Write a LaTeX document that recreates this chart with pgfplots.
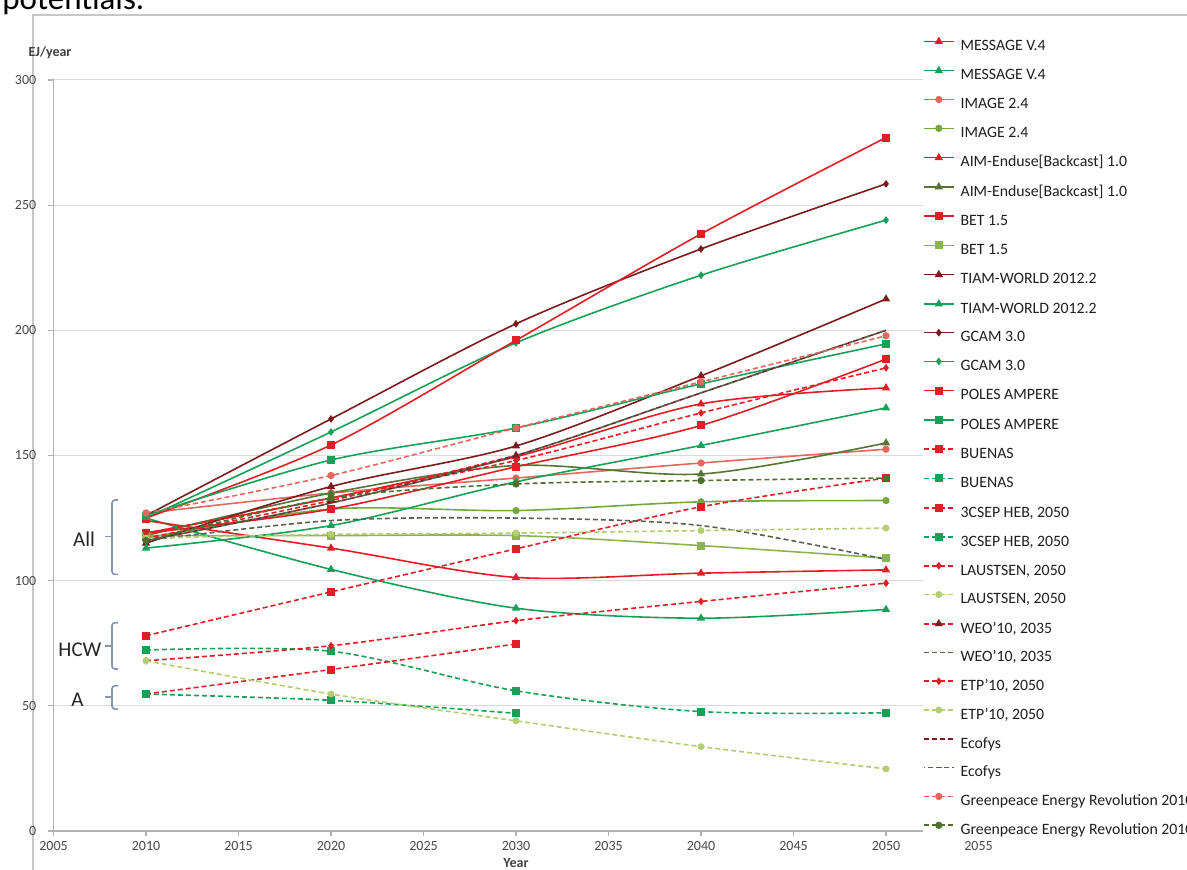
\documentclass[border=0pt]{standalone}
\usepackage{pgfplots}
\pgfplotsset{compat=1.18}
\usepackage{fontspec}
\setmainfont{Carlito}

\definecolor{cRed}{RGB}{225,30,38}
\definecolor{cGreen}{RGB}{22,160,88}
\definecolor{cMaroon}{RGB}{122,28,30}
\definecolor{cSalmon}{RGB}{226,104,94}
\definecolor{cImgGreen}{RGB}{118,166,62}
\definecolor{cAimGreen}{RGB}{88,116,52}
\definecolor{cBetGreen}{RGB}{140,180,78}
\definecolor{cLightGreen}{RGB}{178,206,112}
\definecolor{cWeoGray}{RGB}{88,96,78}
\definecolor{cGpGreen}{RGB}{78,112,42}
\definecolor{cBrace}{RGB}{132,150,176}

\begin{document}
\begin{tikzpicture}[x=1pt,y=1pt]
\path[use as bounding box] (0,0) rectangle (593.5,435);
\clip (0,0) rectangle (593.5,435);
% caption line running above the chart frame
\node[anchor=base west, inner sep=0pt, font=\fontsize{16.5}{18}\selectfont] at (1,430) {potentials.};
% chart frame
\draw[black!22, line width=0.6pt] (16.5,-5) -- (16.5,427.5) -- (600,427.5);

\begin{axis}[
  at={(26.75pt,19.5pt)}, anchor=south west,
  scale only axis, width=462.5pt, height=375.5pt,
  xmin=2005, xmax=2055, ymin=0, ymax=300,
  xtick={2005,2010,...,2055}, ytick={0,50,...,300},
  axis lines=left, axis line style={-, black!30, line width=0.6pt},
  tick style={black!30, line width=0.6pt}, tick align=outside, major tick length=2.6pt,
  ymajorgrids, grid style={black!14, line width=0.5pt},
  ticklabel style={font=\fontsize{7}{8}\selectfont, text=black!72},
  /pgf/number format/assume math mode=true,
  /pgf/number format/1000 sep={},
  xticklabel style={yshift=1pt},
  yticklabel style={xshift=-2.5pt},
  clip=false,
  every axis plot/.append style={line width=0.8pt, smooth},
  legend image code/.code={\draw[mark repeat=2,mark phase=2,#1] plot coordinates {(0pt,2.4pt)(7.5pt,2.4pt)(15pt,2.4pt)};},
  legend style={at={(0.940,1.0557)}, anchor=north west, draw=none, fill=white,
    inner sep=0pt, outer sep=0pt, row sep=6.88pt, column sep=3pt,
    font=\fontsize{7.9}{9}\selectfont, text=black!88,
    cells={anchor=base west},
    nodes={inner sep=0pt, text height=6pt, text depth=1.5pt}},
  legend cell align=left,
]
% model scenarios
\addplot[cRed, mark=triangle*, mark size=1.6pt] coordinates {(2010,119) (2020,133) (2030,149.5) (2040,170.6) (2050,177)};
\addlegendentry{MESSAGE V.4}
\addplot[cGreen, mark=triangle*, mark size=1.6pt] coordinates {(2010,125) (2020,104.5) (2030,89) (2040,85) (2050,88.5)};
\addlegendentry{MESSAGE V.4}
\addplot[cSalmon, mark=*, mark size=1.4pt] coordinates {(2010,127) (2020,135) (2030,141) (2040,147) (2050,152.5)};
\addlegendentry{IMAGE 2.4}
\addplot[cImgGreen, mark=*, mark size=1.4pt] coordinates {(2010,117) (2020,128.6) (2030,128) (2040,131.5) (2050,132)};
\addlegendentry{IMAGE 2.4}
\addplot[cRed, mark=triangle*, mark size=1.6pt] coordinates {(2010,124) (2020,113) (2030,101.3) (2040,103) (2050,104.3)};
\addlegendentry{AIM-Enduse[Backcast] 1.0}
\addplot[cAimGreen, mark=triangle*, mark size=1.6pt] coordinates {(2010,118) (2020,135) (2030,146) (2040,142.6) (2050,155)};
\addlegendentry{AIM-Enduse[Backcast] 1.0}
\addplot[cRed, mark=square*, mark size=1.6pt] coordinates {(2010,119) (2020,128.6) (2030,145.5) (2040,162) (2050,188.5)};
\addlegendentry{BET 1.5}
\addplot[cBetGreen, mark=square*, mark size=1.6pt] coordinates {(2010,118) (2020,118) (2030,118) (2040,114) (2050,109)};
\addlegendentry{BET 1.5}
\addplot[cMaroon, mark=triangle*, mark size=1.6pt] coordinates {(2010,115) (2020,137.6) (2030,153.8) (2040,181.8) (2050,212.5)};
\addlegendentry{TIAM-WORLD 2012.2}
\addplot[cGreen, mark=triangle*, mark size=1.6pt] coordinates {(2010,113) (2020,122) (2030,139.5) (2040,154) (2050,169)};
\addlegendentry{TIAM-WORLD 2012.2}
\addplot[cMaroon, mark=diamond*, mark size=1.3pt] coordinates {(2010,126) (2020,164.6) (2030,202.6) (2040,232.5) (2050,258.5)};
\addlegendentry{GCAM 3.0}
\addplot[cGreen, mark=diamond*, mark size=1.3pt] coordinates {(2010,125) (2020,159.4) (2030,195) (2040,222) (2050,244)};
\addlegendentry{GCAM 3.0}
\addplot[cRed, mark=square*, mark size=1.6pt] coordinates {(2010,125) (2020,154.2) (2030,196) (2040,238.5) (2050,277)};
\addlegendentry{POLES AMPERE}
\addplot[cGreen, mark=square*, mark size=1.6pt] coordinates {(2010,126) (2020,148.2) (2030,161) (2040,178.6) (2050,194.6)};
\addlegendentry{POLES AMPERE}
% sectoral studies
\addplot[cRed, dash pattern=on 2.5pt off 1.5pt, mark=square*, mark size=1.6pt, mark options={solid}] coordinates {(2010,78) (2020,95.5) (2030,112.7) (2040,129.5) (2050,141)};
\addlegendentry{BUENAS}
\addplot[cGreen, dash pattern=on 2.5pt off 1.5pt, mark=square*, mark size=1.6pt, mark options={solid}] coordinates {(2010,72.3) (2020,71.8) (2030,56) (2040,47.7) (2050,47.2)};
\addlegendentry{BUENAS}
\addplot[cRed, dash pattern=on 2.5pt off 1.5pt, mark=square*, mark size=1.6pt, mark options={solid}] coordinates {(2010,54.7) (2020,64.5) (2030,74.7)};
\addlegendentry{3CSEP HEB, 2050}
\addplot[cGreen, dash pattern=on 2.5pt off 1.5pt, mark=square*, mark size=1.6pt, mark options={solid}] coordinates {(2010,54.7) (2020,52.2) (2030,47)};
\addlegendentry{3CSEP HEB, 2050}
\addplot[cRed, dash pattern=on 2.5pt off 1.5pt, mark=diamond*, mark size=1.3pt, mark options={solid}] coordinates {(2010,68) (2020,74) (2030,84) (2040,91.7) (2050,99)};
\addlegendentry{LAUSTSEN, 2050}
\addplot[cLightGreen, dash pattern=on 2.5pt off 1.5pt, mark=*, mark size=1.3pt, mark options={solid}] coordinates {(2010,68) (2020,54.7) (2030,44) (2040,33.7) (2050,24.8)};
\addlegendentry{LAUSTSEN, 2050}
\addplot[cRed, dash pattern=on 2.5pt off 1.5pt, mark=triangle*, mark size=1.6pt, mark options={solid, fill=cMaroon, draw=cMaroon}] coordinates {(2010,117) (2020,132) (2030,150)};
\addlegendentry{WEO'10, 2035}
\addplot[cWeoGray, dash pattern=on 2.5pt off 1.5pt] coordinates {(2010,116) (2020,124) (2030,125) (2040,122) (2050,108.5)};
\addlegendentry{WEO'10, 2035}
\addplot[cRed, dash pattern=on 2.5pt off 1.5pt, mark=diamond*, mark size=1.3pt, mark options={solid}] coordinates {(2010,119) (2020,133) (2030,148) (2040,167) (2050,185)};
\addlegendentry{ETP'10, 2050}
\addplot[cLightGreen, dash pattern=on 2.5pt off 1.5pt, mark=*, mark size=1.3pt, mark options={solid}] coordinates {(2010,117) (2020,118.5) (2030,119) (2040,120) (2050,121)};
\addlegendentry{ETP'10, 2050}
\addplot[cMaroon, dash pattern=on 2.5pt off 1.5pt] coordinates {(2010,116) (2020,131) (2030,150) (2040,175) (2050,200)};
\addlegendentry{Ecofys}
\addplot[cWeoGray, dash pattern=on 2.5pt off 1.5pt, dash phase=2pt] coordinates {(2010,116) (2020,131) (2030,150) (2040,175) (2050,200)};
\addlegendentry{Ecofys}
\addplot[cSalmon, dash pattern=on 2.5pt off 1.5pt, mark=*, mark size=1.4pt, mark options={solid}] coordinates {(2010,127) (2020,142) (2030,161) (2040,179.4) (2050,197.8)};
\addlegendentry{Greenpeace Energy Revolution 2010}
\addplot[cGpGreen, dash pattern=on 2.5pt off 1.5pt, mark=*, mark size=1.4pt, mark options={solid}] coordinates {(2010,116) (2020,133) (2030,138.6) (2040,140) (2050,141)};
\addlegendentry{Greenpeace Energy Revolution 2010}

% group brackets
\draw[cBrace, line width=0.8pt, rounded corners=1.5pt] (2008.49,132.2) -- (2008.16,132.2) -- (2008.16,102.5) -- (2008.49,102.5);
\draw[cBrace, line width=0.8pt] (2008.16,117.6) -- (2007.78,117.6);
\draw[cBrace, line width=0.8pt, rounded corners=1.5pt] (2008.49,83.2) -- (2008.16,83.2) -- (2008.16,64.7) -- (2008.49,64.7);
\draw[cBrace, line width=0.8pt] (2008.16,74) -- (2007.78,74);
\draw[cBrace, line width=0.8pt, rounded corners=1.5pt] (2008.49,58) -- (2008.16,58) -- (2008.16,48.7) -- (2008.49,48.7);
\draw[cBrace, line width=0.8pt] (2008.16,53.6) -- (2007.78,53.6);
\node[font=\fontsize{10.5}{12}\selectfont, text=black!85] at (2006.65,116.6) {All};
\node[font=\fontsize{10.5}{12}\selectfont, text=black!85] at (2006.43,72.3) {HCW};
\node[font=\fontsize{10.5}{12}\selectfont, text=black!85] at (2006.3,52.3) {A};
\end{axis}

% axis titles
\node[font=\bfseries\fontsize{7}{8}\selectfont, text=black!75] at (25,408.5) {EJ/year};
\node[font=\bfseries\fontsize{7}{8}\selectfont, text=black!75] at (258,3.6) {Year};
\end{tikzpicture}
\end{document}
